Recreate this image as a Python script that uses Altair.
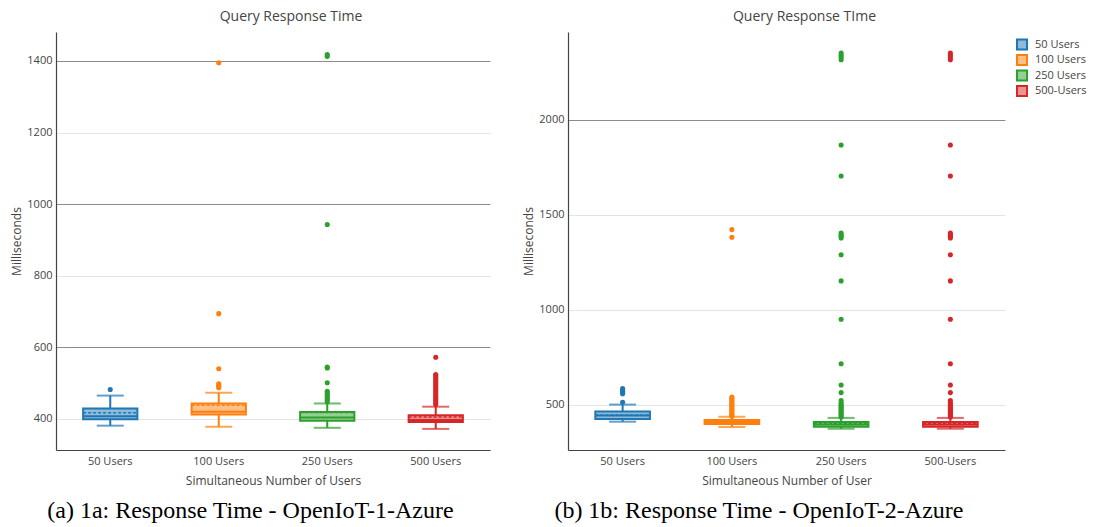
import altair as alt
import pandas as pd

# ---------------- data ----------------
groups = ["50 Users", "100 Users", "250 Users", "500-Users"]
stroke_colors = ["#1f77b4", "#ff7f0e", "#2ca02c", "#d62728"]
fill_colors = ["#8fbbd9", "#ffbf86", "#95cf93", "#ea9393"]

# Panel (a)
a_cats = ["50 Users", "100 Users", "250 Users", "500 Users"]
a_lo = [381, 378, 375, 372]
a_q1 = [399, 412, 395, 391]
a_median = [407, 420, 404, 397]
a_mean = [417, 438, 418, 405]
a_q3 = [429, 443, 419, 410]
a_hi = [465, 473, 443, 434]
a_outliers = [
    [482],
    [1395, 694, 540, 498, 494, 490, 487],
    [1418, 1413, 943, 545, 542, 501, 477, 472, 468, 462, 458, 453, 448],
    [572, 524, 520, 515, 510, 505, 500, 495, 490, 485, 480, 475, 470, 465,
     460, 455, 450, 445, 440],
]
a_ticks = [400, 600, 800, 1000, 1200, 1400]

# Panel (b)
b_cats = ["50 Users", "100 Users", "250 Users", "500-Users"]
b_lo = [412, 384, 375, 375]
b_q1 = [426, 400, 386, 386]
b_median = [445, 410, 397, 397]
b_mean = [447, 412, 401, 401]
b_q3 = [465, 421, 410, 410]
b_hi = [502, 438, 432, 432]
b_outliers = [
    [514, 559, 565, 572, 580, 586],
    [1423, 1383, 542, 535, 528, 520, 512, 505, 498, 490, 482, 475, 468, 460,
     452, 445, 440],
    [2352, 2340, 2330, 2317, 1868, 1705, 1405, 1395, 1388, 1379, 1291, 1153,
     951, 717, 605, 565, 523, 510, 502, 495, 488, 480, 472, 465, 458, 450,
     443, 437],
    [2352, 2340, 2330, 2317, 1868, 1705, 1405, 1395, 1388, 1379, 1291, 1153,
     951, 717, 605, 565, 523, 510, 502, 495, 488, 480, 472, 465, 458, 450,
     443, 437],
]
b_ticks = [500, 1000, 1500, 2000]

FONT = "Open Sans"
fill_scale = alt.Scale(domain=groups, range=fill_colors)
stroke_scale = alt.Scale(domain=groups, range=stroke_colors)
# separate colour scale for the non-box marks (distinct domain so that its
# hidden legend is not merged into the box legend)
mark_scale = alt.Scale(domain=groups + ["-"], range=stroke_colors + ["#000000"])

legend = alt.Legend(title=None, orient="none", legendX=448, legendY=6,
                    symbolType="square", symbolSize=100, symbolStrokeWidth=2,
                    labelFont=FONT, labelFontSize=11, labelColor="#444",
                    rowPadding=2.5, clipHeight=13, labelOffset=7, padding=0)


def panel(cats, lo, q1, med, mean, q3, hi, outliers, ticks, ydomain,
          dark_test, width, title_text, xtitle, caption, show_legend, cap_dx):
    box = pd.DataFrame({"cat": cats, "grp": groups, "lo": lo, "q1": q1,
                        "med": med, "mean": mean, "q3": q3, "hi": hi})
    rows = []
    for c, g, vals in zip(cats, groups, outliers):
        for v in vals:
            rows.append({"cat": c, "grp": g, "v": v})
    out = pd.DataFrame(rows)

    xenc = alt.X("cat:N", sort=cats, title=xtitle,
                 scale=alt.Scale(paddingInner=0, paddingOuter=0),
                 axis=alt.Axis(labelAngle=0, ticks=False, domainColor="#444",
                               domainWidth=1.2, labelColor="#444",
                               labelFontSize=11, labelFont=FONT,
                               labelPadding=5, titleFont=FONT,
                               titleFontSize=12, titleColor="#444",
                               titleFontWeight="normal", titlePadding=9))
    yscale = alt.Scale(domain=ydomain, nice=False, zero=False)
    yaxis = alt.Axis(values=ticks, format="d", ticks=False,
                     domainColor="#444", domainWidth=1.2, labelColor="#444",
                     labelFontSize=11, labelFont=FONT, labelPadding=4,
                     titleFont=FONT, titleFontSize=12, titleColor="#444",
                     titleFontWeight="normal", titlePadding=3, grid=True,
                     gridColor={"condition": {"test": dark_test,
                                              "value": "#8c8c8c"},
                                "value": "#e4e4e4"},
                     gridWidth=1)
    base = alt.Chart(box)
    col = alt.Color("grp:N", scale=mark_scale, legend=None)
    whisk_lo = base.mark_rule(strokeWidth=2).encode(
        x=xenc, y=alt.Y("lo:Q", scale=yscale, axis=yaxis, title="Milliseconds"),
        y2="q1:Q", color=col)
    whisk_hi = base.mark_rule(strokeWidth=2).encode(
        x=xenc, y=alt.Y("q3:Q"), y2="hi:Q", color=col)
    cap_lo = base.mark_tick(thickness=2, size=27).encode(
        x=xenc, y="lo:Q", color=col)
    cap_hi = base.mark_tick(thickness=2, size=27).encode(
        x=xenc, y="hi:Q", color=col)
    bars = base.mark_bar(strokeWidth=2, width=alt.RelativeBandSize(0.5)).encode(
        x=xenc, y="q1:Q", y2="q3:Q",
        fill=alt.Fill("grp:N", scale=fill_scale,
                      legend=legend if show_legend else None),
        stroke=alt.Stroke("grp:N", scale=stroke_scale,
                          legend=legend if show_legend else None))
    median = base.mark_rule(strokeWidth=2).encode(
        x=alt.X("cat:N", sort=cats, bandPosition=0.25),
        x2=alt.X2("cat:N", bandPosition=0.75), y="med:Q", color=col)
    meanl = base.mark_rule(strokeWidth=1.5, strokeDash=[3, 2]).encode(
        x=alt.X("cat:N", sort=cats, bandPosition=0.25),
        x2=alt.X2("cat:N", bandPosition=0.75), y="mean:Q", color=col)
    pts = alt.Chart(out).mark_circle(size=26, opacity=1).encode(
        x=xenc, y="v:Q", color=col)
    layer = alt.layer(whisk_lo, whisk_hi, cap_lo, cap_hi, bars, median, meanl,
                      pts).properties(
        width=width, height=418,
        title=alt.TitleParams(title_text, font=FONT, fontSize=14,
                              fontWeight="normal", color="#444",
                              anchor="middle", frame="group", dx=18,
                              offset=8))
    return alt.hconcat(layer).properties(
        title=alt.TitleParams(caption, orient="bottom", anchor="middle",
                              font="Liberation Serif", fontSize=24,
                              fontWeight="normal", color="black", offset=13,
                              dx=cap_dx))


left = panel(a_cats, a_lo, a_q1, a_median, a_mean, a_q3, a_hi, a_outliers,
             a_ticks, [313, 1481],
             "datum.value == 600 || datum.value == 1000 || datum.value == 1400",
             434, "Query Response Time", "Simultaneous Number of Users",
             "(a) 1a: Response Time - OpenIoT-1-Azure", False, 0)
right = panel(b_cats, b_lo, b_q1, b_median, b_mean, b_q3, b_hi, b_outliers,
              b_ticks, [263, 2463], "datum.value == 2000",
              437, "Query Response TIme", "Simultaneous Number of User",
              "(b) 1b: Response Time - OpenIoT-2-Azure", True, -46)

chart = alt.hconcat(left, right, spacing=32).resolve_scale(
    fill="independent", stroke="independent", color="independent"
).configure(
    padding={"top": 2, "left": 2, "right": 0, "bottom": 0}, font=FONT
).configure_view(stroke=None)

chart.save("out.html", embed_options={"renderer": "svg", "actions": False})
